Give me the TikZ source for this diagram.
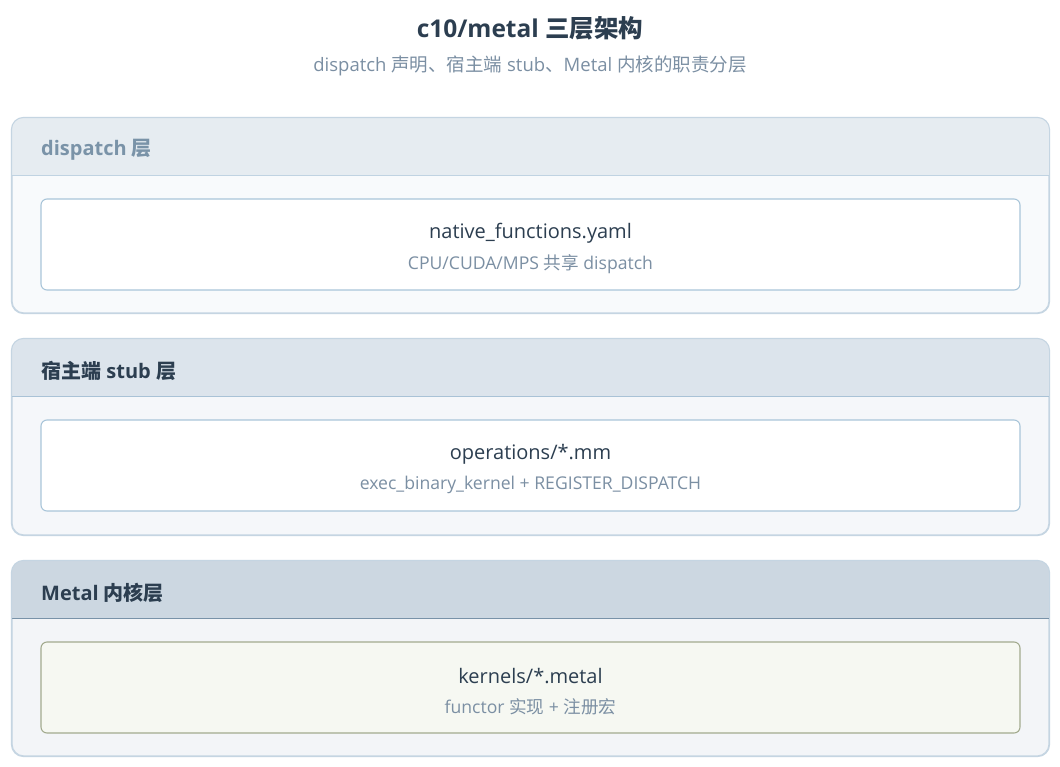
\documentclass[tikz,border=0pt]{standalone}
\usepackage{fontspec}
\setmainfont{Open Sans}
\newfontfamily\cjk{Noto Sans CJK SC}
\definecolor{titlec}{HTML}{2C3E50}
\definecolor{subc}{HTML}{7B8FA3}
\definecolor{panelline}{HTML}{C5D5E2}
\definecolor{bodyA}{HTML}{F8FAFC}
\definecolor{bodyB}{HTML}{F5F7FA}
\definecolor{bodyC}{HTML}{F3F5F8}
\definecolor{hdrA}{HTML}{E6ECF1}
\definecolor{hdrB}{HTML}{DCE4EC}
\definecolor{hdrC}{HTML}{CCD7E1}
\definecolor{hlineA}{HTML}{C0D3E2}
\definecolor{hlineB}{HTML}{A9C2D6}
\definecolor{hlineC}{HTML}{7892A8}
\definecolor{hdrtxtA}{HTML}{7A93A8}
\definecolor{boxline}{HTML}{A9C5D9}
\definecolor{kfill}{HTML}{F6F8F2}
\definecolor{kline}{HTML}{A3AB8F}
\begin{document}
\begin{tikzpicture}[x=1pt,y=-1pt,
  panel/.style={draw=panelline, line width=1.1pt, rounded corners=12pt, minimum width=1037pt, minimum height=195pt, inner sep=0pt},
  itembox/.style={draw=boxline, fill=white, line width=1.1pt, rounded corners=6pt, minimum width=979pt, minimum height=91pt, inner sep=0pt},
  hdrtext/.style={anchor=west, font=\fontsize{20}{24}\selectfont\bfseries, text=titlec, inner sep=0pt},
  maintext/.style={font=\fontsize{20}{24}\selectfont, text=titlec, inner sep=0pt},
  subtext/.style={font=\fontsize{17.6}{21}\selectfont, text=subc, inner sep=0pt}]
\useasboundingbox[fill=white] (0,0) rectangle (1060,766);

\node[font=\fontsize{24.5}{28}\selectfont\bfseries, text=titlec, inner sep=0pt] (title) at (530,28) {c10/metal {\cjk 三层架构}};
\node[font=\fontsize{18.5}{22}\selectfont, text=subc, inner sep=0pt] (subtitle) at (530,65.5) {dispatch {\cjk 声明、宿主端} stub{\cjk 、}Metal {\cjk 内核的职责分层}};

% panel 1
\node[panel, fill=bodyA] (p1) at (530.5,215.5) {};
\fill[hdrA] ([yshift=-58pt]p1.north west) {[rounded corners=12pt] -- (p1.north west) -- (p1.north east)} -- ([yshift=-58pt]p1.north east) -- cycle;
\draw[hlineA, line width=1.1pt] ([yshift=-58pt]p1.north west) -- ([yshift=-58pt]p1.north east);
\draw[panelline, line width=1.1pt, rounded corners=12pt] (p1.north west) rectangle (p1.south east);
\node[hdrtext, text=hdrtxtA] (h1) at (41,149.5) {dispatch {\cjk 层}};
\node[itembox] (b1) at (530.5,244.5) {};
\node[maintext] (m1) at (530.5,233) {native\_functions.yaml};
\node[subtext] (s1) at (530.5,264) {CPU/CUDA/MPS {\cjk 共享} dispatch};

% panel 2
\node[panel, fill=bodyB, minimum height=196pt] (p2) at (530.5,437) {};
\fill[hdrB] ([yshift=-58pt]p2.north west) {[rounded corners=12pt] -- (p2.north west) -- (p2.north east)} -- ([yshift=-58pt]p2.north east) -- cycle;
\draw[hlineB, line width=1.1pt] ([yshift=-58pt]p2.north west) -- ([yshift=-58pt]p2.north east);
\draw[panelline, line width=1.1pt, rounded corners=12pt] (p2.north west) rectangle (p2.south east);
\node[hdrtext] (h2) at (41,371) {{\cjk 宿主端} stub {\cjk 层}};
\node[itembox] (b2) at (530.5,465.5) {};
\node[maintext] (m2) at (530.5,454) {operations/*.mm};
\node[subtext] (s2) at (530.5,485) {exec\_binary\_kernel + REGISTER\_DISPATCH};

% panel 3
\node[panel, fill=bodyC] (p3) at (530.5,658.5) {};
\fill[hdrC] ([yshift=-58pt]p3.north west) {[rounded corners=12pt] -- (p3.north west) -- (p3.north east)} -- ([yshift=-58pt]p3.north east) -- cycle;
\draw[hlineC, line width=1.1pt] ([yshift=-58pt]p3.north west) -- ([yshift=-58pt]p3.north east);
\draw[panelline, line width=1.1pt, rounded corners=12pt] (p3.north west) rectangle (p3.south east);
\node[hdrtext] (h3) at (41,592.5) {Metal {\cjk 内核层}};
\node[itembox, fill=kfill, draw=kline] (b3) at (530.5,687.5) {};
\node[maintext] (m3) at (530.5,676) {kernels/*.metal};
\node[subtext] (s3) at (530.5,707) {functor {\cjk 实现} + {\cjk 注册宏}};
\end{tikzpicture}
\end{document}
